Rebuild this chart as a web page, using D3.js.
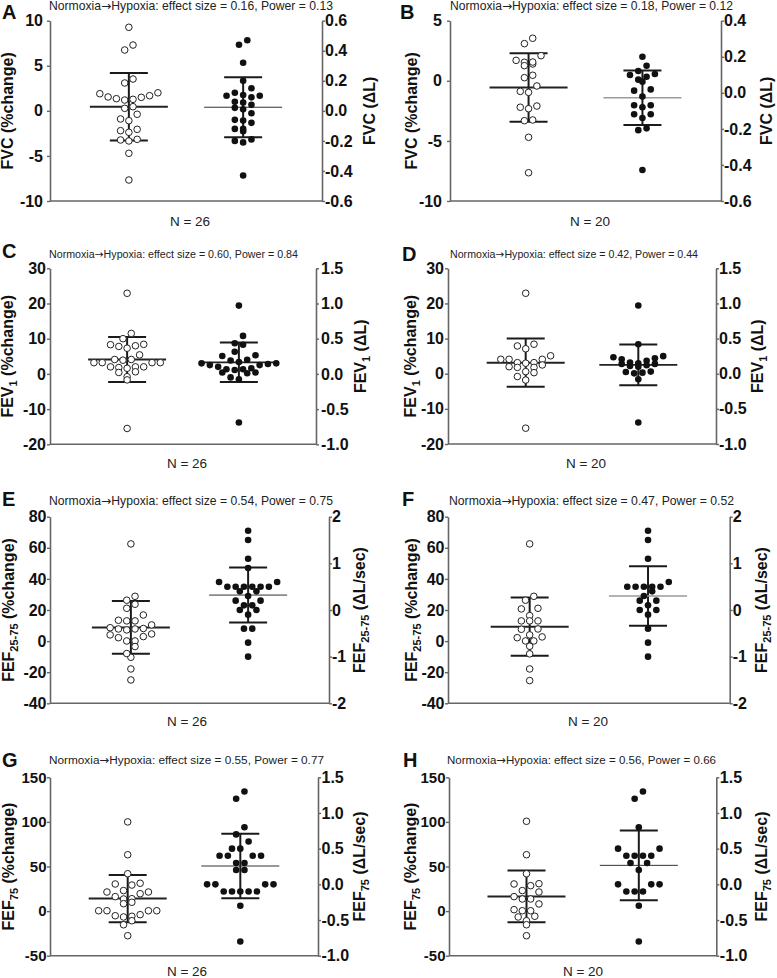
<!DOCTYPE html>
<html>
<head>
<meta charset="utf-8">
<script src="https://cdn.jsdelivr.net/npm/d3@7"></script>
<style>
  body { margin: 0; background: #fff; }
  svg { display: block; font-family: "Liberation Sans", Arial, sans-serif; }
  text { white-space: pre; }
</style>
</head>
<body>
<div id="chart"></div>
<script>
// panel labels and stats
const panelLetters = ["A", "B", "C", "D", "E", "F", "G", "H"];
const panelN = [26, 20, 26, 20, 26, 20, 26, 20];
const effectSize = [0.16, 0.18, 0.60, 0.42, 0.54, 0.47, 0.55, 0.56];
const power = [0.13, 0.12, 0.84, 0.44, 0.75, 0.52, 0.77, 0.66];

// measure name, subscript, right axis unit
const measureName = ["FVC", "FVC", "FEV", "FEV", "FEF", "FEF", "FEF", "FEF"];
const measureSub = ["", "", "1", "1", "25-75", "25-75", "75", "75"];
const deltaUnit = ["(ΔL)", "(ΔL)", "(ΔL)", "(ΔL)", "(ΔL/sec)", "(ΔL/sec)", "(ΔL/sec)", "(ΔL/sec)"];

// tick labels, left axis (%change) and right axis (delta)
const pctTicks = [
  [-10, -5, 0, 5, 10], [-10, -5, 0, 5],
  [-20, -10, 0, 10, 20, 30], [-20, -10, 0, 10, 20, 30],
  [-40, -20, 0, 20, 40, 60, 80], [-40, -20, 0, 20, 40, 60, 80],
  [-50, 0, 50, 100, 150], [-50, 0, 50, 100, 150]
];
const deltaTicks = [
  [-0.6, -0.4, -0.2, 0, 0.2, 0.4, 0.6], [-0.6, -0.4, -0.2, 0, 0.2, 0.4],
  [-1, -0.5, 0, 0.5, 1, 1.5], [-1, -0.5, 0, 0.5, 1, 1.5],
  [-2, -1, 0, 1, 2], [-2, -1, 0, 1, 2],
  [-1, -0.5, 0, 0.5, 1, 1.5], [-1, -0.5, 0, 0.5, 1, 1.5]
];

// individual values: open circles = %change, filled circles = absolute change
const fvcPctA = [9.27, 7.3, 6.75, 3.53, 3.09, 1.9, 1.54, 1.35, 1.2, 1.28, 1.5, 1.68, 2.0, 0.46, 0.28, -0.38, -1.09, -0.9, -2.2, -2.38, -2.05, -3.16, -3.34, -3.23, -4.71, -7.67];
const fvcDeltaA = [0.47, 0.44, 0.32, 0.2, 0.15, 0.09, 0.105, 0.1, 0.1, 0.12, 0.06, 0.055, 0.04, 0.02, 0.01, -0.016, -0.065, -0.08, -0.06, -0.12, -0.135, -0.12, -0.2, -0.21, -0.19, -0.43];
const fvcPctB = [3.54, 3.09, 2.09, 1.7, 1.54, 1.26, 1.4, 1.56, 0.46, 0.26, -0.43, -0.96, -0.88, -2.2, -2.32, -2.1, -3.32, -3.26, -4.7, -7.65];
const fvcDeltaB = [0.2, 0.15, 0.104, 0.089, 0.099, 0.121, 0.062, 0.019, 0.012, -0.021, -0.069, -0.069, -0.08, -0.119, -0.119, -0.14, -0.197, -0.207, -0.428, 0.073];
const fev1PctC = [22.9, 11.5, 10.0, 8.3, 8.0, 7.3, 7.8, 8.4, 5.4, 4.1, 3.2, 3.2, 3.2, 3.2, 3.9, 4.1, 2.0, 1.6, 2.0, 2.0, 1.8, 0.6, 0.4, -0.8, -1.7, -15.5];
const fev1DeltaC = [0.97, 0.54, 0.415, 0.435, 0.315, 0.265, 0.255, 0.2, 0.19, 0.17, 0.15, 0.125, 0.08, 0.055, 0.065, 0.065, 0.1, 0.125, 0.14, 0.15, 0.02, 0.01, 0.02, -0.05, -0.075, -0.69];
const fev1PctD = [22.9, 8.4, 7.1, 7.9, 4.1, 4.1, 3.15, 3.15, 4.1, 5.1, 2.5, 1.8, 3.0, 1.8, 2.0, 0.6, 0.3, -0.8, -1.8, -15.5];
const fev1DeltaD = [0.97, 0.42, 0.25, 0.205, 0.22, 0.235, 0.185, 0.15, 0.12, 0.11, 0.14, 0.14, 0.16, 0.1, 0.03, 0.005, 0.025, 0.015, -0.08, -0.695];
const fef2575PctE = [62.5, 28.8, 26.3, 23.7, 21.1, 16.8, 13.4, 13.0, 13.0, 10.4, 7.2, 7.8, 7.8, 8.6, 8.1, 4.0, 4.6, 2.9, 2.2, 0.1, 0.1, -3.5, -10.4, -8.0, -17.9, -25];
const fef2575DeltaE = [1.7, 1.5, 1.1, 0.9, 0.6, 0.6, 0.5, 0.5, 0.5, 0.5, 0.5, 0.5, 0.4, 0.4, 0.3, 0.2, 0.2, 0.1, 0.1, 0.0, 0.0, -0.1, -0.4, -0.4, -0.7, -1.0];
const fef2575PctF = [62.5, 28.8, 26.3, 20.7, 21.1, 16.4, 13.0, 13.0, 13.0, 7.6, 7.8, 4.0, 2.2, 2.7, 0.1, 0.1, -3.3, -8.2, -17.9, -25.4];
const fef2575DeltaF = [1.7, 1.5, 1.1, 0.6, 0.5, 0.5, 0.5, 0.5, 0.5, 0.4, 0.3, 0.2, 0.2, 0.1, 0.0, 0.0, -0.1, -0.4, -0.7, -1.0];
const fef75PctG = [100, 63.2, 41.9, 30.4, 31.2, 29.2, 21.4, 19.5, 21.4, 23.0, 13.9, 13.6, 16.2, 9.9, 8.3, 0.4, 0.4, 0.4, 0.4, -4.0, -5.8, -6.6, -5.2, -10.8, -15.3, -27.6];
const fef75DeltaG = [1.3, 1.2, 0.8, 0.7, 0.6, 0.5, 0.5, 0.4, 0.4, 0.4, 0.4, 0.3, 0.3, 0.2, 0.2, 0.0, 0.0, 0.0, 0.0, -0.1, -0.1, -0.1, -0.1, -0.1, -0.3, -0.8];
const fef75PctH = [100.7, 63.2, 41.9, 30.7, 30.4, 28.5, 21.4, 23.0, 16.2, 13.6, 13.6, 8.0, 0.4, 1.6, 0.4, -5.8, -6.6, -10.8, -15.3, -27.6];
const fef75DeltaH = [1.2, 1.3, 0.8, 0.5, 0.5, 0.4, 0.4, 0.4, 0.4, 0.3, 0.3, 0.2, 0.0, 0.0, 0.0, -0.1, -0.1, -0.1, -0.3, -0.8];

const pctValues = [fvcPctA, fvcPctB, fev1PctC, fev1PctD, fef2575PctE, fef2575PctF, fef75PctG, fef75PctH];
const deltaValues = [fvcDeltaA, fvcDeltaB, fev1DeltaC, fev1DeltaD, fef2575DeltaE, fef2575DeltaF, fef75DeltaG, fef75DeltaH];

// mean and SD as drawn in the figure
const pctMean = [0.45, -0.56, 4.1, 3.15, 8.8, 9.3, 14.0, 16.5];
const pctSD = [3.75, 2.85, 6.4, 6.85, 17, 18.7, 26.5, 29];
const deltaMean = [0.024, -0.027, 0.165, 0.125, 0.32, 0.3, 0.257, 0.266];
const deltaSD = [0.2, 0.151, 0.28, 0.29, 0.59, 0.64, 0.453, 0.49];

// panel placement (pixels)
const layout = [
  { x0: 50, x1: 322, y0: 20.7, y1: 201, lx: 2, ly: 18.5, tx: 49, ty: 9.5, tw: 284, lt: 13, rt: 375, nx: 190, ny: 226, lpad: 4, rpad: 0, tfs: 16, meanCol: "#333", meanW: 1 },
  { x0: 450, x1: 721, y0: 20.7, y1: 201, lx: 400, ly: 18.5, tx: 450, ty: 9.5, tw: 283, lt: 417, rt: 772, nx: 590, ny: 226, lpad: 5, rpad: 0, tfs: 16, meanCol: "#9a9a9a", meanW: 1.5 },
  { x0: 50, x1: 316, y0: 268.3, y1: 444.3, lx: 2, ly: 258, tx: 49, ty: 257.8, tw: 249, lt: 13, rt: 366, nx: 187, ny: 468, lpad: 1, rpad: 2, tfs: 16, meanCol: "#222", meanW: 1.8 },
  { x0: 448, x1: 716, y0: 268.3, y1: 444, lx: 402, ly: 261, tx: 450, ty: 258, tw: 248, lt: 416, rt: 763, nx: 586, ny: 468, lpad: 1, rpad: 0, tfs: 16, meanCol: "#222", meanW: 1.8 },
  { x0: 50, x1: 329, y0: 516.7, y1: 703.3, lx: 2, ly: 505.5, tx: 49, ty: 504.5, tw: 284, lt: 14, rt: 365, nx: 187, ny: 726, lpad: 0.5, rpad: 0, tfs: 16, meanCol: "#333", meanW: 1 },
  { x0: 448, x1: 729.7, y0: 516.7, y1: 703.3, lx: 402, ly: 505.5, tx: 449, ty: 504.5, tw: 285, lt: 417, rt: 767, nx: 588, ny: 726, lpad: 0.5, rpad: 0, tfs: 16, meanCol: "#9a9a9a", meanW: 1.5 },
  { x0: 50, x1: 318, y0: 777.3, y1: 955.7, lx: 2, ly: 767, tx: 49, ty: 764, tw: 275, lt: 13.5, rt: 365, nx: 187, ny: 975.5, lpad: 0.5, rpad: 0.5, tfs: 15, meanCol: "#333", meanW: 1 },
  { x0: 449, x1: 716.3, y0: 777.3, y1: 955.7, lx: 403, ly: 767, tx: 447, ty: 764, tw: 269, lt: 416, rt: 767, nx: 583, ny: 975.5, lpad: 0.5, rpad: 0.5, tfs: 15, meanCol: "#333", meanW: 1 }
];

const axisColor = "#666";
const dotR = 3.3;
const step = 8.3;   // horizontal spacing of dots in one row
const binH = 7.5;   // dots closer than this (px) share a row
const capW = 38, meanLen = 78;

const svg = d3.select("#chart").append("svg")
  .attr("width", 777)
  .attr("height", 978);

// Prism-like scatter: bin by pixel y, spread each row round the centre
const swarmOffsets = (ys) => {
  const order = d3.range(ys.length).sort((a, b) => ys[a] - ys[b]);
  const bins = [];
  let cur = [], start = 0;
  order.forEach(k => {
    if (cur.length && ys[k] - start > binH) { bins.push(cur); cur = []; }
    if (!cur.length) start = ys[k];
    cur.push(k);
  });
  if (cur.length) bins.push(cur);
  const off = new Array(ys.length).fill(0);
  bins.forEach(b => {
    const n = b.length;
    const slots = d3.range(n).map(j => (j - (n - 1) / 2) * step);
    const slotOrder = d3.range(n).sort((a, c) => Math.abs(slots[a]) - Math.abs(slots[c]) || slots[a] - slots[c]);
    const pts = b.slice().sort((a, c) => ys[c] - ys[a]);
    pts.forEach((k, j) => { off[k] = slots[slotOrder[j]]; });
  });
  return off;
};

const styleAxis = (fs) => (sel) => {
  sel.select(".domain").attr("stroke", axisColor).attr("stroke-width", 1.6);
  sel.selectAll(".tick line").attr("stroke", axisColor).attr("stroke-width", 1.4);
  sel.selectAll(".tick text")
    .attr("font-size", fs)
    .attr("font-weight", "bold")
    .attr("fill", "#111")
    .attr("font-family", "Liberation Sans, Arial, sans-serif");
};

const axisTitle = (g, x, y, main, sub, unit) => {
  const t = g.append("text")
    .attr("transform", `translate(${x},${y}) rotate(-90)`)
    .attr("text-anchor", "middle")
    .attr("font-size", 16)
    .attr("font-weight", "bold")
    .attr("fill", "#111");
  t.append("tspan").text(main);
  if (sub) {
    t.append("tspan").attr("font-size", 11).attr("dy", 4).text(sub);
    t.append("tspan").attr("dy", -4).text(" " + unit);
  } else {
    t.append("tspan").text(" " + unit);
  }
};

const drawPanel = (i) => {
  const L = layout[i];
  const g = svg.append("g").attr("class", "panel-" + panelLetters[i]);

  const yL = d3.scaleLinear().domain(d3.extent(pctTicks[i])).range([L.y1, L.y0]);
  const yR = d3.scaleLinear().domain(d3.extent(deltaTicks[i])).range([L.y1, L.y0]);
  const x = d3.scalePoint().domain(["pct", "delta"]).range([L.x0, L.x1]).padding(0.69);

  // axes
  g.append("g")
    .attr("transform", `translate(${L.x0},0)`)
    .call(d3.axisLeft(yL).tickValues(pctTicks[i]).tickSize(3).tickSizeOuter(0).tickPadding(L.lpad)
      .tickFormat(d => String(d)))
    .call(styleAxis(L.tfs));

  const rightFmt = i === 4 || i === 5 ? (d => String(d)) : (d => d.toFixed(1));
  g.append("g")
    .attr("transform", `translate(${L.x1},0)`)
    .call(d3.axisRight(yR).tickValues(deltaTicks[i]).tickSize(3).tickSizeOuter(0).tickPadding(L.rpad)
      .tickFormat(rightFmt))
    .call(styleAxis(16));

  g.append("line")
    .attr("x1", L.x0).attr("x2", L.x1)
    .attr("y1", L.y1).attr("y2", L.y1)
    .attr("stroke", axisColor).attr("stroke-width", 1.6);

  // mean +/- SD
  const groups = [
    { key: "pct", y: yL, mean: pctMean[i], sd: pctSD[i], col: "#222", w: 2 },
    { key: "delta", y: yR, mean: deltaMean[i], sd: deltaSD[i], col: L.meanCol, w: L.meanW }
  ];
  groups.forEach(gr => {
    const cx = x(gr.key);
    const yt = gr.y(gr.mean + gr.sd), yb = gr.y(gr.mean - gr.sd);
    const bars = g.append("g").attr("stroke", "#1a1a1a").attr("stroke-width", 2);
    bars.append("line").attr("x1", cx).attr("x2", cx).attr("y1", yt).attr("y2", yb);
    bars.append("line").attr("x1", cx - capW / 2).attr("x2", cx + capW / 2).attr("y1", yt).attr("y2", yt);
    bars.append("line").attr("x1", cx - capW / 2).attr("x2", cx + capW / 2).attr("y1", yb).attr("y2", yb);
    g.append("line")
      .attr("x1", cx - meanLen / 2).attr("x2", cx + meanLen / 2)
      .attr("y1", gr.y(gr.mean)).attr("y2", gr.y(gr.mean))
      .attr("stroke", gr.col).attr("stroke-width", gr.w);
  });

  // open circles, %change
  const pys = pctValues[i].map(v => yL(v));
  const pOff = swarmOffsets(pys);
  g.append("g")
    .selectAll("circle")
    .data(pctValues[i])
    .join("circle")
    .attr("cx", (d, k) => x("pct") + pOff[k])
    .attr("cy", d => yL(d))
    .attr("r", dotR)
    .attr("fill", "#fff")
    .attr("stroke", "#222")
    .attr("stroke-width", 1);

  // filled circles, absolute change
  const dys = deltaValues[i].map(v => yR(v));
  const dOff = swarmOffsets(dys);
  g.append("g")
    .selectAll("circle")
    .data(deltaValues[i])
    .join("circle")
    .attr("cx", (d, k) => x("delta") + dOff[k])
    .attr("cy", d => yR(d))
    .attr("r", dotR)
    .attr("fill", "#111");

  // texts
  g.append("text")
    .attr("x", L.lx).attr("y", L.ly)
    .attr("font-size", 20).attr("font-weight", "bold").attr("fill", "#111")
    .text(panelLetters[i]);

  const title = g.append("text")
    .attr("x", L.tx).attr("y", L.ty)
    .attr("font-size", L.tw / 23.5)
    .attr("textLength", L.tw).attr("lengthAdjust", "spacingAndGlyphs")
    .attr("fill", "#222");
  title.append("tspan").text("Normoxia");
  title.append("tspan").attr("font-family", "DejaVu Sans").text("\u2192");
  title.append("tspan")
    .text(`Hypoxia: effect size = ${effectSize[i].toFixed(2)}, Power = ${power[i].toFixed(2)}`);

  const midY = (L.y0 + L.y1) / 2;
  axisTitle(g, L.lt, midY, measureName[i], measureSub[i], "(%change)");
  axisTitle(g, L.rt, midY, measureName[i], measureSub[i], deltaUnit[i]);

  g.append("text")
    .attr("x", L.nx).attr("y", L.ny)
    .attr("text-anchor", "middle")
    .attr("font-size", 13.5).attr("fill", "#222")
    .text(`N = ${panelN[i]}`);
};

panelLetters.forEach((p, i) => drawPanel(i));
</script>
</body>
</html>
